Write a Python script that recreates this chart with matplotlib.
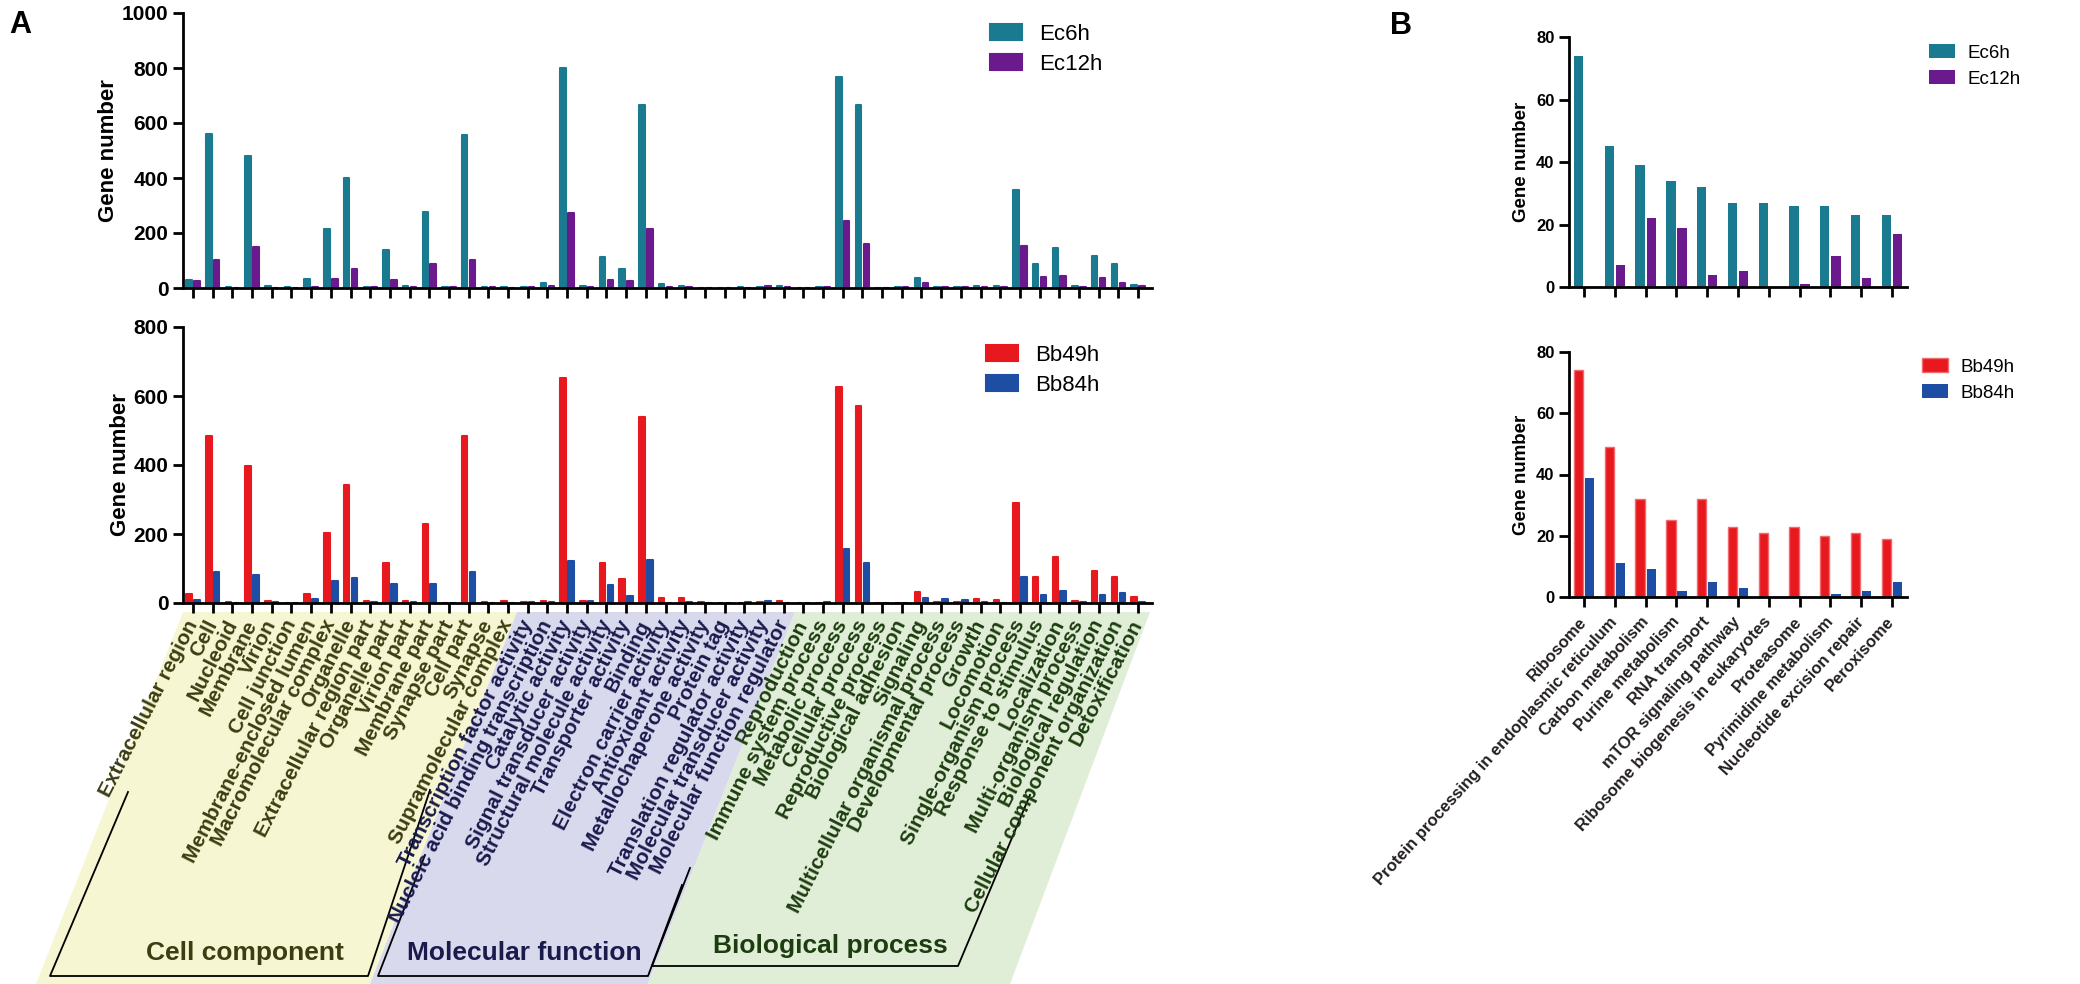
import numpy as np
import matplotlib
matplotlib.use("Agg")
import matplotlib.pyplot as plt
from matplotlib.patches import Polygon

plt.rcParams['font.family'] = ['Liberation Sans', 'DejaVu Sans']

# ---- panel A data (GO categories) ----
go_terms = ['Extracellular region', 'Cell', 'Nucleoid', 'Membrane', 'Virion', 'Cell junction',
            'Membrane-enclosed lumen', 'Macromolecular complex', 'Organelle',
            'Extracellular region part', 'Organelle part', 'Virion part', 'Membrane part',
            'Synapse part', 'Cell part', 'Synapse', 'Supramolecular complex',
            'Transcription factor activity', 'Nucleic acid binding transcription',
            'Catalytic activity', 'Signal transducer activity', 'Structural molecule activity',
            'Transporter activity', 'Binding', 'Electron carrier activity', 'Antioxidant activity',
            'Metallochaperone activity', 'Protein tag', 'Translation regulator activity',
            'Molecular transducer activity', 'Molecular function regulator',
            'Reproduction', 'Immune system process', 'Metabolic process', 'Cellular process',
            'Reproductive process', 'Biological adhesion', 'Signaling',
            'Multicellular organismal process', 'Developmental process', 'Growth', 'Locomotion',
            'Single-organism process', 'Response to stimulus', 'Localization',
            'Multi-organism process', 'Biological regulation', 'Cellular component organization',
            'Detoxification']
n_cell = 17
n_mol = 14
n_bio = 18

ec6h = [30, 560, 2, 480, 7, 2, 32, 215, 400, 5, 138, 7, 278, 2, 555, 2, 5,
        2, 17, 800, 8, 114, 69, 665, 13, 8, 1, 0, 2, 5, 6,
        1, 2, 767, 665, 1, 5, 37, 5, 5, 8, 7, 356, 87, 145, 6, 116, 86, 11]
ec12h = [27, 102, 1, 150, 1, 1, 4, 33, 69, 5, 29, 2, 86, 2, 102, 2, 1,
         2, 8, 274, 5, 29, 25, 214, 3, 5, 0, 0, 0, 8, 3,
         1, 2, 245, 160, 1, 3, 20, 3, 5, 3, 2, 154, 40, 44, 3, 37, 19, 9]
bb49h = [27, 485, 3, 397, 5, 0, 26, 204, 342, 5, 117, 5, 229, 0, 485, 3, 7,
         2, 6, 652, 6, 115, 69, 540, 15, 15, 2, 0, 1, 3, 5,
         0, 1, 627, 572, 0, 0, 33, 2, 2, 13, 8, 289, 76, 134, 5, 93, 76, 16]
bb84h = [8, 91, 0, 81, 3, 0, 11, 64, 73, 3, 55, 3, 55, 0, 91, 0, 1,
         3, 3, 123, 6, 52, 20, 125, 1, 4, 0, 0, 2, 6, 1,
         0, 3, 157, 115, 1, 0, 14, 12, 8, 3, 1, 76, 22, 35, 2, 23, 28, 4]

# ---- panel B data (KEGG pathways) ----
pathways = ['Ribosome', 'Protein processing in endoplasmic reticulum', 'Carbon metabolism',
            'Purine metabolism', 'RNA transport', 'mTOR signaling pathway',
            'Ribosome biogenesis in eukaryotes', 'Proteasome', 'Pyrimidine metabolism',
            'Nucleotide excision repair', 'Peroxisome']
kegg_ec6h = [74, 45, 39, 34, 32, 27, 27, 26, 26, 23, 23]
kegg_ec12h = [0, 7, 22, 19, 4, 5, 0, 1, 10, 3, 17]
kegg_bb49h = [74, 49, 32, 25, 32, 23, 21, 23, 20, 21, 19]
kegg_bb84h = [39, 11, 9, 2, 5, 3, 0, 0, 1, 2, 5]

teal = '#1a7a90'
purple = '#6a1a8c'
red = '#e8191e'
blue = '#1e4ea3'

W, H = 2080, 984
fig = plt.figure(figsize=(W / 100, H / 100), dpi=100)


def px_axes(x0, y_top, x1, y_bot, z=0):
    return fig.add_axes([x0 / W, 1 - y_bot / H, (x1 - x0) / W, (y_bot - y_top) / H], zorder=z)


def style(ax, fs):
    for s in ['top', 'right']:
        ax.spines[s].set_visible(False)
    for s in ['left', 'bottom']:
        ax.spines[s].set_linewidth(2.0)
    ax.tick_params(axis='both', width=2.0, length=7, direction='out', labelsize=fs)
    for t in ax.get_yticklabels():
        t.set_fontweight('bold')
    ax.set_facecolor('none')


# background shapes behind the GO labels (pixel coords)
bg = fig.add_axes([0, 0, 1, 1], zorder=-1)
bg.set_xlim(0, W)
bg.set_ylim(H, 0)
bg.axis('off')
shapes = [
    ([(183, 612), (517, 612), (370, 984), (36, 984)], '#f6f6d2'),
    ([(517, 612), (795, 612), (648, 984), (370, 984)], '#d9d9ee'),
    ([(795, 612), (1150, 612), (1010, 984), (648, 984)], '#e1eed7'),
]
for pts, c in shapes:
    bg.add_patch(Polygon(pts, closed=True, facecolor=c, edgecolor='none'))
brackets = [
    [(128, 792), (50, 976), (368, 976), (430, 790)],
    [(425, 855), (378, 976), (648, 976), (682, 885)],
    [(690, 868), (652, 966), (958, 966), (1030, 795)],
]
for pts in brackets:
    xs, ys = zip(*pts)
    bg.plot(xs, ys, color='black', lw=1.3)
bg.text(245, 953, 'Cell component', ha='center', va='center', fontsize=19,
        fontweight='bold', color='#3d3d12')
bg.text(524, 953, 'Molecular function', ha='center', va='center', fontsize=19,
        fontweight='bold', color='#1a1a4d')
bg.text(830, 946, 'Biological process', ha='center', va='center', fontsize=19,
        fontweight='bold', color='#1d3d10')
bg.text(20, 25, 'A', ha='center', va='center', fontsize=22, fontweight='bold')
bg.text(1401, 26, 'B', ha='center', va='center', fontsize=22, fontweight='bold')

# ---- panel A ----
x = np.arange(len(go_terms))
bw = 0.28
off = 0.2
cap = dict(linewidth=1.5, joinstyle='round')

ax1 = px_axes(183, 13, 1152, 288)
ax1.bar(x - off, ec6h, bw, color=teal, edgecolor=teal, label='Ec6h', **cap)
ax1.bar(x + off, ec12h, bw, color=purple, edgecolor=purple, label='Ec12h', **cap)
ax1.set_xlim(-0.51, 48.71)
ax1.set_ylim(0, 1000)
ax1.set_yticks([0, 200, 400, 600, 800, 1000])
ax1.set_xticks(x)
ax1.set_xticklabels([])
style(ax1, 15)
ax1.set_ylabel('Gene number', fontsize=16, fontweight='bold', labelpad=2)
ax1.legend(loc='upper left', bbox_to_anchor=(990 / W, 1 - 24 / H), bbox_transform=fig.transFigure,
           frameon=False, fontsize=16, handlelength=1.45, handleheight=0.75,
           handletextpad=0.75, labelspacing=0.4, borderpad=0, borderaxespad=0)

ax2 = px_axes(183, 327, 1152, 603)
ax2.bar(x - off, bb49h, bw, color=red, edgecolor=red, label='Bb49h', **cap)
ax2.bar(x + off, bb84h, bw, color=blue, edgecolor=blue, label='Bb84h', **cap)
ax2.set_xlim(-0.51, 48.71)
ax2.set_ylim(0, 800)
ax2.set_yticks([0, 200, 400, 600, 800])
ax2.set_xticks(x)
ax2.set_xticklabels(go_terms, rotation=63, ha='right', va='center', rotation_mode='anchor',
                    fontsize=15, fontweight='bold')
style(ax2, 15)
ax2.tick_params(axis='x', pad=6)
label_colors = ['#3d3d12'] * n_cell + ['#1a1a4d'] * n_mol + ['#1d3d10'] * n_bio
for t, c in zip(ax2.get_xticklabels(), label_colors):
    t.set_color(c)
ax2.set_ylabel('Gene number', fontsize=16, fontweight='bold', labelpad=2)
ax2.legend(loc='upper left', bbox_to_anchor=(986 / W, 1 - 345 / H), bbox_transform=fig.transFigure,
           frameon=False, fontsize=16, handlelength=1.45, handleheight=0.75,
           handletextpad=0.75, labelspacing=0.4, borderpad=0, borderaxespad=0)

# ---- panel B ----
xb = np.arange(len(pathways))
bwb = 0.3
offb = 0.18

ax3 = px_axes(1569, 37, 1907, 287)
ax3.bar(xb - offb, kegg_ec6h, bwb, color=teal, label='Ec6h')
ax3.bar(xb + offb, kegg_ec12h, bwb, color=purple, label='Ec12h')
ax3.set_xlim(-0.49, 10.49)
ax3.set_ylim(0, 80)
ax3.set_yticks([0, 20, 40, 60, 80])
ax3.set_xticks(xb)
ax3.set_xticklabels([])
style(ax3, 12)
ax3.set_ylabel('Gene number', fontsize=13.5, fontweight='bold', labelpad=4)
ax3.legend(loc='upper left', bbox_to_anchor=(1929 / W, 1 - 44 / H), bbox_transform=fig.transFigure,
           frameon=False, fontsize=13.5, handlelength=1.4, handleheight=0.8,
           handletextpad=0.65, labelspacing=0.45, borderpad=0, borderaxespad=0)

ax4 = px_axes(1569, 352, 1907, 597)
ax4.bar(xb - offb, kegg_bb49h, bwb, color=red, edgecolor='#f06a6e', linewidth=1, label='Bb49h')
ax4.bar(xb + offb, kegg_bb84h, bwb, color=blue, label='Bb84h')
ax4.set_xlim(-0.49, 10.49)
ax4.set_ylim(0, 80)
ax4.set_yticks([0, 20, 40, 60, 80])
ax4.set_xticks(xb)
ax4.set_xticklabels(pathways, rotation=48, ha='right', va='center', rotation_mode='anchor',
                    fontsize=13.5, fontweight='bold', color='#231f20')
style(ax4, 12)
ax4.tick_params(axis='x', pad=9)
ax4.set_ylabel('Gene number', fontsize=13.5, fontweight='bold', labelpad=4)
ax4.legend(loc='upper left', bbox_to_anchor=(1922 / W, 1 - 358 / H), bbox_transform=fig.transFigure,
           frameon=False, fontsize=13.5, handlelength=1.4, handleheight=0.8,
           handletextpad=0.65, labelspacing=0.45, borderpad=0, borderaxespad=0)

fig.savefig('out.png', dpi=100)
